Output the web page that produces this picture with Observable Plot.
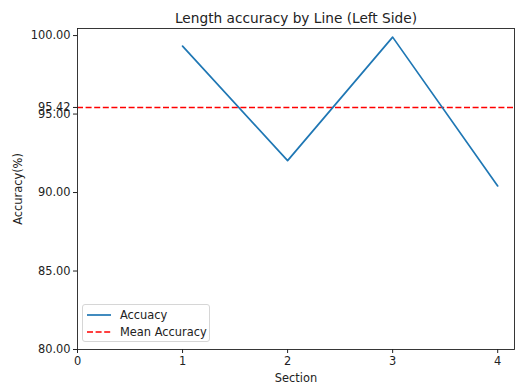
<!DOCTYPE html>
<html>
<head>
<meta charset="utf-8">
<script src="https://cdn.jsdelivr.net/npm/d3@7"></script>
<script src="https://cdn.jsdelivr.net/npm/@observablehq/plot@0.6"></script>
<style>
  html, body { margin: 0; padding: 0; background: #fff; }
  #wrap { position: relative; width: 516px; height: 387px; font-family: "DejaVu Sans", sans-serif; }
  .legend { position: absolute; left: 82px; top: 304px; width: 128px; height: 38px;
    border: 1px solid #d6d6d6; border-radius: 3px; background: rgba(255,255,255,0.8);
    font-size: 11.4px; color: #222; box-sizing: border-box; }
  .legend .row { position: absolute; left: 4px; height: 14px; display: flex; align-items: center; }
  .legend svg { margin-right: 9px; }
</style>
</head>
<body>
<div id="wrap"></div>
<script>
const sections = [1, 2, 3, 4];
const accuracy = [99.33, 92.03, 99.9, 90.42];
const yTicks = [80, 85, 90, 95, 100];
const xTicks = [0, 1, 2, 3, 4];
const titleText = "Length accuracy by Line (Left Side)";
const seriesLabel = "Accuacy";
const meanLabel = "Mean Accuracy";

const meanAcc = Math.round(d3.mean(accuracy) * 100) / 100;
const data = sections.map((s, i) => ({section: s, acc: accuracy[i]}));

const chart = Plot.plot({
  width: 516,
  height: 387,
  marginLeft: 77,
  marginRight: 2,
  marginTop: 28,
  marginBottom: 38,
  style: {fontFamily: "DejaVu Sans, sans-serif", fontSize: "11.4px", color: "#222", background: "#fff"},
  x: {domain: [0, 4.16]},
  y: {domain: [80, 100.45]},
  marks: [
    Plot.axisX({ticks: xTicks, tickFormat: d => String(d), tickSize: 4, tickPadding: 3,
      label: "Section", labelAnchor: "center", labelOffset: 32, labelArrow: "none", fontSize: 11.4}),
    Plot.axisY({ticks: [...yTicks, meanAcc], tickFormat: d => d.toFixed(2), tickSize: 4, tickPadding: 3,
      label: "Accuracy(%)", labelAnchor: "center", labelOffset: 64, labelArrow: "none", fontSize: 11.4}),
    Plot.ruleY([meanAcc], {stroke: "#ff0000", strokeWidth: 1.6, strokeDasharray: "6,2.6"}),
    Plot.line(data, {x: "section", y: "acc", stroke: "#1f77b4", strokeWidth: 1.7}),
    Plot.frame({stroke: "#222", strokeWidth: 0.9}),
    Plot.text([titleText], {frameAnchor: "top", lineAnchor: "bottom", dy: -6, fontSize: 13.7, fill: "#222"})
  ]
});
document.getElementById("wrap").appendChild(chart);

const legend = document.createElement("div");
legend.className = "legend";
legend.innerHTML = `
  <div class="row" style="top:3px"><svg width="24" height="4"><line x1="0" y1="2" x2="24" y2="2" stroke="#1f77b4" stroke-width="1.7"/></svg>${seriesLabel}</div>
  <div class="row" style="top:20px"><svg width="24" height="4"><line x1="0" y1="2" x2="24" y2="2" stroke="#ff0000" stroke-width="1.6" stroke-dasharray="6,2.6"/></svg>${meanLabel}</div>`;
document.getElementById("wrap").appendChild(legend);
</script>
</body>
</html>
